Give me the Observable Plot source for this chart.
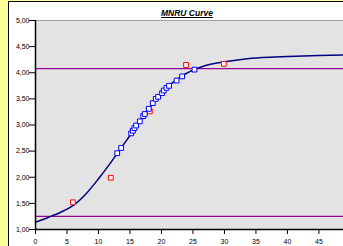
<!DOCTYPE html>
<html>
<head>
<meta charset="utf-8">
<script src="https://cdn.jsdelivr.net/npm/d3@7"></script>
<script src="https://cdn.jsdelivr.net/npm/@observablehq/plot@0.6"></script>
<style>
  html, body { margin: 0; padding: 0; overflow: hidden; background: #ffff99; width: 343px; height: 246px; }
  #box { position: absolute; left: 8px; top: 1px; width: 400px; height: 300px; background: #fff; border-left: 1px solid #000; border-top: 1px solid #000; }
  #chart { position: absolute; left: 0; top: 0; }
  #title { position: absolute; left: 137px; width: 100px; top: 8px; text-align: center; font: italic bold 8.5px/10px "Liberation Sans", Arial, sans-serif; text-decoration: underline; color: #000; }
</style>
</head>
<body>
<div id="box"></div>
<div id="chart"></div>
<div id="title">MNRU Curve</div>
<script>
// Fitted curve
const curveX = [0, 2, 4, 6, 8, 10, 12, 13, 14, 15, 16, 17, 18, 19, 20, 21, 22, 23, 24, 25, 27, 30, 33, 36, 40, 45, 49];
const curveY = [1.14, 1.23, 1.33, 1.46, 1.68, 1.97, 2.29, 2.46, 2.63, 2.80, 2.98, 3.15, 3.31, 3.46, 3.60, 3.73, 3.83, 3.92, 3.99, 4.05, 4.14, 4.21, 4.26, 4.29, 4.31, 4.33, 4.34];

// Blue (accepted) points
const blueX = [12.97, 13.6, 15.19, 15.45, 15.71, 15.98, 16.56, 17.1, 17.35, 17.99, 18.62, 19.1, 19.47, 20.1, 20.37, 20.79, 21.2, 22.4, 23.28, 25.24];
const blueY = [2.46, 2.56, 2.84, 2.89, 2.94, 2.99, 3.07, 3.17, 3.21, 3.31, 3.42, 3.50, 3.54, 3.61, 3.66, 3.71, 3.75, 3.85, 3.93, 4.06];

// Red (rejected) points
const redX = [5.93, 11.96, 18.15, 23.9, 29.9];
const redY = [1.52, 1.99, 3.26, 4.15, 4.17];

// Horizontal limit lines
const limits = [1.25, 4.08];

// Ticks
const xTicks = [0, 5, 10, 15, 20, 25, 30, 35, 40, 45];
const yTicks = [1, 1.5, 2, 2.5, 3, 3.5, 4, 4.5, 5];

const curve = curveX.map((x, i) => ({x, y: curveY[i]}));
const blue = blueX.map((x, i) => ({x, y: blueY[i]}));
const red = redX.map((x, i) => ({x, y: redY[i]}));
const fmt = d => d.toFixed(2).replace(".", ",");

const chart = Plot.plot({
  width: 343,
  height: 246,
  marginLeft: 35,
  marginRight: 0,
  marginTop: 20,
  marginBottom: 17,
  style: {background: "transparent", fontFamily: "'Liberation Sans', Arial, sans-serif", fontSize: "7px", color: "#000"},
  x: {domain: [0, 48.9], label: null},
  y: {domain: [1, 5], label: null},
  marks: [
    Plot.frame({fill: "#e3e3e3", stroke: null}),
    Plot.ruleY([5], {stroke: "#a0a0a0", strokeWidth: 1}),
    Plot.ruleY(limits, {stroke: "#990099", strokeWidth: 1.3}),
    Plot.line(curve, {x: "x", y: "y", stroke: "#000080", strokeWidth: 1.5, curve: "monotone-x"}),
    Plot.dot(red, {x: "x", y: "y", symbol: "square", r: 2.7, stroke: "#ff0000", fill: "#ffffff", strokeWidth: 1}),
    Plot.dot(blue, {x: "x", y: "y", symbol: "square", r: 2.7, stroke: "#0000ff", fill: "#ffffff", strokeWidth: 1}),
    Plot.ruleX([0], {stroke: "#000", strokeWidth: 1.5}),
    Plot.ruleY([1], {stroke: "#000", strokeWidth: 1.5}),
    Plot.axisX({ticks: xTicks, text: null, label: null, tickSize: 5, insetTop: -2, stroke: "#000"}),
    Plot.axisX({ticks: xTicks, label: null, tickSize: 0, tickPadding: 9.5, tickFormat: d => String(d), fill: "#000"}),
    Plot.axisY({ticks: yTicks, text: null, label: null, tickSize: 6, insetRight: -2, stroke: "#000"}),
    Plot.axisY({ticks: yTicks, label: null, tickSize: 0, tickPadding: 6, tickFormat: fmt, fill: "#000"})
  ]
});
document.getElementById("chart").appendChild(chart);
</script>
</body>
</html>
